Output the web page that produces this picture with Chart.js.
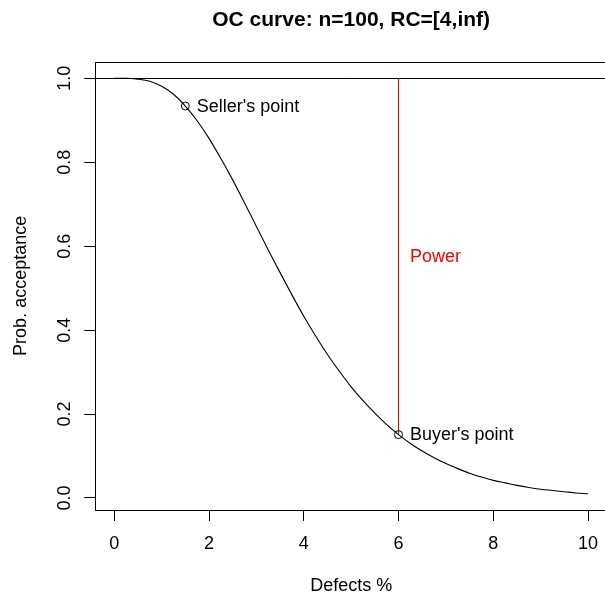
<!DOCTYPE html>
<html>
<head>
<meta charset="utf-8">
<script src="https://cdn.jsdelivr.net/npm/chart.js@4/dist/chart.umd.min.js"></script>
<style>
  html, body { margin: 0; padding: 0; background: #fff; overflow: hidden; }
  canvas { display: block; }
</style>
</head>
<body>
<canvas id="ocChart" width="612" height="595"></canvas>
<script>
// OC curve
var defectsPct = [0, 0.25, 0.5, 0.75, 1, 1.25, 1.5, 1.75, 2, 2.25, 2.5, 2.75, 3, 3.25, 3.5, 3.75,
                  4, 4.25, 4.5, 4.75, 5, 5.25, 5.5, 5.75, 6, 6.25, 6.5, 6.75, 7, 7.25, 7.5, 7.75,
                  8, 8.25, 8.5, 8.75, 9, 9.25, 9.5, 9.75, 10];
var probAccept = [1.000, 1.000, 0.998, 0.993, 0.981, 0.962, 0.934, 0.899, 0.857, 0.809, 0.758, 0.703,
                  0.647, 0.591, 0.537, 0.484, 0.433, 0.386, 0.342, 0.302, 0.265, 0.232, 0.202, 0.175,
                  0.151, 0.130, 0.112, 0.096, 0.082, 0.070, 0.059, 0.050, 0.042, 0.036, 0.030, 0.025,
                  0.021, 0.018, 0.015, 0.012, 0.010];

var pointNames = ["Seller's point", "Buyer's point"];
var pointX = [1.5, 6];
var pointY = [0.934, 0.151];

var xTicks = [0, 2, 4, 6, 8, 10];
var yTicks = [0, 0.2, 0.4, 0.6, 0.8, 1.0];

var FONT = '"Liberation Sans", Arial, Helvetica, sans-serif';

var curveData = defectsPct.map(function(x, i){ return {x: x, y: probAccept[i]}; });
var markData = pointX.map(function(x, i){ return {x: x, y: pointY[i]}; });
var powerData = [{x: pointX[1], y: 1}, {x: pointX[1], y: pointY[1]}];

var rPlot = {
  id: 'rPlot',
  beforeDatasetsDraw: function(chart){
    var ctx = chart.ctx, a = chart.chartArea;
    var ys = chart.scales.y;
    ctx.save();
    ctx.strokeStyle = '#000';
    ctx.lineWidth = 1;
    // box
    ctx.strokeRect(Math.round(a.left) + 0.5, Math.round(a.top) + 0.5,
                   Math.round(a.right - a.left), Math.round(a.bottom - a.top));
    // abline h=1
    var y1 = Math.round(ys.getPixelForValue(1)) + 0.5;
    ctx.beginPath();
    ctx.moveTo(a.left, y1);
    ctx.lineTo(a.right, y1);
    ctx.stroke();
    ctx.restore();
  },
  afterDatasetsDraw: function(chart){
    var ctx = chart.ctx, a = chart.chartArea;
    var xs = chart.scales.x, ys = chart.scales.y;
    ctx.save();
    ctx.fillStyle = '#000';

    // title
    ctx.font = 'bold 21px ' + FONT;
    ctx.textAlign = 'center';
    ctx.textBaseline = 'alphabetic';
    ctx.fillText('OC curve: n=100, RC=[4,inf)', (a.left + a.right) / 2, 25.5);

    // x axis title
    ctx.font = '18px ' + FONT;
    ctx.fillText('Defects %', (a.left + a.right) / 2, 591.2);

    // y tick labels (rotated like R)
    ys.ticks.forEach(function(t){
      var py = ys.getPixelForValue(t.value);
      ctx.save();
      ctx.translate(70, py);
      ctx.rotate(-Math.PI / 2);
      ctx.fillText(t.value.toFixed(1), 0, 0);
      ctx.restore();
    });

    // y axis title
    ctx.save();
    ctx.translate(26.3, (a.top + a.bottom) / 2);
    ctx.rotate(-Math.PI / 2);
    ctx.fillText('Prob. acceptance', 0, 0);
    ctx.restore();

    // point labels
    ctx.textAlign = 'left';
    pointNames.forEach(function(name, i){
      var px = xs.getPixelForValue(pointX[i]);
      var py = ys.getPixelForValue(pointY[i]);
      ctx.fillText(name, px + 11.5, py + 5.5);
    });

    // power label
    ctx.fillStyle = '#ff0000';
    var midY = ys.getPixelForValue((1 + pointY[1]) / 2);
    ctx.fillText('Power', xs.getPixelForValue(pointX[1]) + 11.5, midY + 6);
    ctx.restore();
  }
};

new Chart(document.getElementById('ocChart'), {
  type: 'scatter',
  data: {
    datasets: [
      {
        data: markData,
        showLine: false,
        pointStyle: 'circle',
        pointRadius: 4,
        pointBorderWidth: 1,
        pointBorderColor: '#000',
        pointBackgroundColor: 'rgba(0,0,0,0)'
      },
      {
        data: curveData,
        showLine: true,
        borderColor: '#000',
        borderWidth: 1.1,
        pointRadius: 0,
        cubicInterpolationMode: 'monotone'
      },
      {
        data: powerData,
        showLine: true,
        borderColor: '#ff0000',
        borderWidth: 1,
        pointRadius: 0
      }
    ]
  },
  options: {
    responsive: false,
    animation: false,
    devicePixelRatio: 1,
    layout: { padding: { top: 61.7, right: 3.7, bottom: 0, left: 0 } },
    plugins: {
      legend: { display: false },
      tooltip: { enabled: false },
      title: { display: false }
    },
    scales: {
      x: {
        type: 'linear',
        min: -0.4,
        max: 10.4,
        afterBuildTicks: function(scale){
          scale.ticks = xTicks.map(function(v){ return {value: v}; });
        },
        ticks: {
          color: '#000',
          font: { family: FONT, size: 18 },
          padding: 12,
          maxRotation: 0,
          callback: function(v){ return String(v); }
        },
        grid: { display: true, drawOnChartArea: false, drawTicks: true, tickLength: 11, color: '#000', lineWidth: 1 },
        border: { display: false },
        afterFit: function(scale){ scale.height = 85; }
      },
      y: {
        type: 'linear',
        min: -0.0286,
        max: 1.0396,
        afterBuildTicks: function(scale){
          scale.ticks = yTicks.map(function(v){ return {value: v}; });
        },
        ticks: { display: false },
        grid: { display: true, drawOnChartArea: false, drawTicks: true, tickLength: 11, color: '#000', lineWidth: 1 },
        border: { display: false },
        afterFit: function(scale){ scale.width = 95.3; }
      }
    }
  },
  plugins: [rPlot]
});
</script>
</body>
</html>
